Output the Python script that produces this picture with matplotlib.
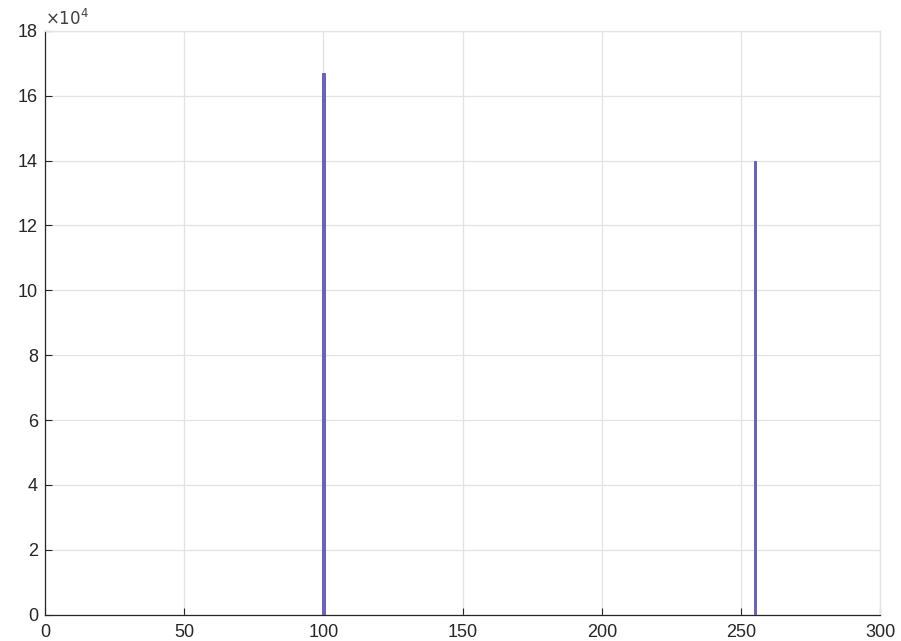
import numpy as np
import matplotlib
matplotlib.use("Agg")
import matplotlib.pyplot as plt

# histogram bins (gray levels) and their counts
levels = [100, 255]
counts = [167000, 140000]

xticks = [0, 50, 100, 150, 200, 250, 300]
yticks = [0, 2, 4, 6, 8, 10, 12, 14, 16, 18]

plt.rcParams['font.family'] = ['Liberation Sans', 'DejaVu Sans']

fig = plt.figure(figsize=(9.01, 6.41), dpi=100)
ax = fig.add_axes([0.050, 0.041, 0.927, 0.911])

ax.bar(levels, counts, width=1.0, color='#6b63c4', edgecolor='#5a52b8', linewidth=0.6, zorder=3)

ax.set_xlim(0, 300)
ax.set_ylim(0, 18e4)
ax.set_xticks(xticks)
ax.set_xticklabels([str(t) for t in xticks])
ax.set_yticks([t * 1e4 for t in yticks])
ax.set_yticklabels([str(t) for t in yticks])

ax.grid(True, color='#e3e3e3', linewidth=0.9, zorder=0)
ax.tick_params(direction='in', length=5, width=0.8, labelsize=13, color='#262626',
               labelcolor='#262626', pad=5)
ax.tick_params(axis='x', pad=7)
for side in ['left', 'bottom']:
    ax.spines[side].set_color('#262626')
    ax.spines[side].set_linewidth(0.9)
for side in ['top', 'right']:
    ax.spines[side].set_color('#e3e3e3')
    ax.spines[side].set_linewidth(0.9)

ax.text(0.0, 1.004, r'$\times 10^4$', transform=ax.transAxes, fontsize=12,
        color='#404040', ha='left', va='bottom', math_fontfamily='dejavusans')

fig.savefig('out.png', dpi=100)
